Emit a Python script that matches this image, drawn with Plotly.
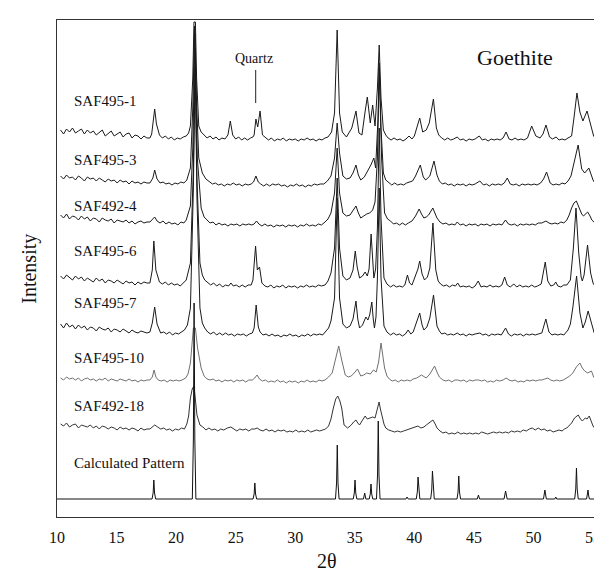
import plotly.graph_objects as go

# ---------------- data: (2theta, intensity above the pattern's own offset) ----------------
SAF495_1 = [(10.3,12),(10.55,8),(10.8,13),(11.05,10),(11.3,14),(11.55,9),(11.8,11),(12.05,13),(12.3,8),(12.55,12),(12.8,9),(13.05,11),(13.3,7),(13.55,10),(13.8,12),(14.05,6),(14.3,9),(14.55,11),(14.8,6),(15.05,8),(15.3,10),(15.55,5),(15.8,8),(16.05,9),(16.3,4),(16.55,7),(16.8,6),(17.05,3),(17.3,6),(17.55,4),
            (17.8,4),(17.95,8),(18.1,22),(18.2,33),(18.35,18),(18.6,7),(18.85,4),(19.1,6),(19.35,3),(19.6,5),(19.85,2),(20.1,4),(20.35,3),(20.6,5),(20.85,6),(21.05,9),(21.2,16),(21.4,64),(21.5,120),(21.62,120),(21.72,64),(21.9,16),(22.1,10),
            (22.35,7),(22.6,4),(22.85,6),(23.1,3),(23.35,5),(23.6,2),(23.85,4),(24.1,3),(24.35,7),(24.55,21),(24.75,7),(25.0,3),(25.25,5),(25.5,2),(25.75,4),(26.0,2),(26.25,4),(26.45,5),(26.55,7),(26.7,23),(26.85,15),(27.05,31),(27.25,7),(27.5,4),(27.75,2),(28.0,4),(28.25,1),(28.5,3),(28.75,2),(29.0,4),(29.25,1),(29.5,3),(29.75,2),(30.0,3),(30.25,1),(30.5,3),(30.75,2),(31.0,4),(31.25,2),(31.5,3),(31.75,1),(32.0,3),(32.25,2),(32.5,4),(32.75,5),
            (33.05,10),(33.3,29),(33.52,112),(33.72,29),(33.95,10),(34.3,5),(34.75,14),(35.1,31),(35.35,9),(35.6,7),(35.85,29),(36.05,45),(36.3,19),(36.5,37),(36.7,16),(36.9,54),(37.05,97),(37.2,44),(37.4,12),
            (37.6,7),(37.8,4),(38.05,2),(38.3,4),(38.55,2),(38.8,3),(39.05,1),(39.3,3),(39.55,6),(39.8,3),(40.0,6),(40.15,12),(40.45,24),(40.7,10),(41.0,12),(41.25,19),(41.6,43),(41.85,14),(42.05,7),(42.3,4),(42.55,2),(42.8,4),(43.05,2),(43.3,3),(43.6,5),(43.85,2),(44.1,3),(44.35,1),(44.6,3),(44.85,2),(45.1,3),(45.45,6),(45.7,2),(45.95,3),(46.2,1),(46.45,3),(46.7,2),(46.95,3),(47.2,2),(47.45,4),(47.7,10),(47.95,3),(48.2,2),(48.45,4),(48.7,2),(48.95,3),(49.2,2),(49.5,4),(49.85,16),(50.2,6),(50.55,4),(50.8,8),(51.05,17),(51.35,5),(51.6,3),(51.9,5),(52.15,2),(52.4,3),(52.65,2),(52.9,4),(53.2,6),(53.4,24),(53.65,49),(53.9,30),(54.15,21),(54.5,31),(54.85,14),(55.05,6),(55.25,3)]

SAF495_3 = [(10.3,11),(10.55,8),(10.8,12),(11.05,9),(11.3,10),(11.55,7),(11.8,11),(12.05,9),(12.3,6),(12.55,10),(12.8,8),(13.05,9),(13.3,6),(13.55,9),(13.8,7),(14.05,5),(14.3,8),(14.55,6),(14.8,7),(15.05,4),(15.3,7),(15.55,5),(15.8,6),(16.05,3),(16.3,6),(16.55,4),(16.8,5),(17.05,3),(17.3,5),(17.55,4),
            (17.8,4),(18.05,9),(18.2,17),(18.4,8),(18.65,4),(18.9,5),(19.15,3),(19.4,4),(19.65,2),(19.9,4),(20.15,3),(20.4,5),(20.65,4),(20.9,7),(21.2,19),(21.4,79),(21.55,161),(21.7,89),(21.9,29),(22.2,14),(22.5,8),(22.8,5),(23.05,3),(23.3,4),(23.55,2),(23.8,3),(24.05,1),(24.3,3),(24.55,2),(24.8,4),(25.05,2),(25.3,3),(25.55,1),(25.8,3),(26.05,2),(26.3,3),(26.5,5),(26.7,11),(26.9,5),(27.1,3),(27.35,1),(27.6,3),(27.85,1),(28.1,3),(28.35,2),(28.6,3),(28.85,1),(29.1,2),(29.35,0),(29.6,2),(29.85,1),(30.1,3),(30.35,1),(30.6,2),(30.85,0),(31.1,2),(31.35,1),(31.6,3),(31.85,2),(32.1,3),(32.4,3),(32.7,6),
            (33.0,11),(33.3,29),(33.52,64),(33.72,34),(34.0,11),(34.3,8),(34.6,9),(34.85,14),(35.1,22),(35.3,12),(35.5,7),(35.8,10),(36.1,16),(36.35,22),(36.6,29),(36.75,19),(36.95,69),(37.05,124),(37.2,59),(37.4,14),
            (37.6,7),(37.85,4),(38.1,2),(38.35,4),(38.6,2),(38.85,3),(39.1,2),(39.35,4),(39.6,5),(39.85,6),(40.1,11),(40.5,22),(40.75,10),(40.95,7),(41.3,11),(41.65,26),(41.9,12),(42.1,6),(42.35,3),(42.6,4),(42.85,2),(43.1,3),(43.35,1),(43.6,3),(43.85,2),(44.1,3),(44.35,1),(44.6,3),(44.85,2),(45.1,3),(45.5,6),(45.8,2),(46.05,3),(46.3,1),(46.55,3),(46.8,2),(47.05,3),(47.3,2),(47.55,4),(47.8,9),(48.05,3),(48.3,2),(48.55,3),(48.8,1),(49.05,3),(49.3,2),(49.55,3),(49.8,2),(50.05,3),(50.3,2),(50.6,4),(50.85,8),(51.1,15),(51.4,4),(51.65,2),(51.9,3),(52.15,2),(52.4,4),(52.65,3),(52.9,6),(53.15,11),(53.4,24),(53.75,42),(54.05,18),(54.3,14),(54.65,19),(55.0,7),(55.25,2)]

SAF492_4 = [(10.3,12),(10.55,9),(10.8,13),(11.05,8),(11.3,11),(11.55,10),(11.8,7),(12.05,11),(12.3,8),(12.55,10),(12.8,6),(13.05,9),(13.3,8),(13.55,5),(13.8,9),(14.05,7),(14.3,6),(14.55,8),(14.8,4),(15.05,7),(15.3,6),(15.55,5),(15.8,7),(16.05,4),(16.3,6),(16.55,3),(16.8,5),(17.05,6),(17.3,4),(17.55,5),
            (17.8,5),(18.05,8),(18.2,10),(18.4,6),(18.65,4),(18.9,6),(19.15,3),(19.4,5),(19.65,3),(19.9,4),(20.15,2),(20.4,5),(20.65,4),(20.85,7),(21.2,21),(21.4,79),(21.58,194),(21.78,69),(22.1,19),(22.35,10),(22.6,7),(22.85,4),(23.1,5),(23.35,2),(23.6,4),(23.85,2),(24.1,3),(24.35,1),(24.6,3),(24.85,2),(25.1,3),(25.35,1),(25.6,3),(25.85,2),(26.1,3),(26.35,2),(26.55,3),(26.75,6),(26.95,3),(27.2,1),(27.45,3),(27.7,1),(27.95,2),(28.2,0),(28.45,2),(28.7,1),(28.95,2),(29.2,0),(29.45,2),(29.7,1),(29.95,2),(30.2,0),(30.45,2),(30.7,1),(30.95,3),(31.2,1),(31.45,2),(31.7,1),(31.95,3),(32.2,2),(32.5,5),(32.75,8),
            (33.0,14),(33.3,34),(33.52,79),(33.72,34),(34.0,14),(34.3,11),(34.6,12),(34.85,16),(35.1,21),(35.3,14),(35.5,9),(35.75,11),(36.0,13),(36.25,14),(36.5,17),(36.7,25),(36.9,69),(37.05,159),(37.25,69),(37.5,14),
            (37.75,8),(38.0,6),(38.25,3),(38.5,4),(38.75,2),(39.0,4),(39.25,2),(39.5,4),(39.8,6),(40.1,11),(40.4,18),(40.6,13),(40.8,9),(41.0,10),(41.2,12),(41.55,19),(41.75,14),(41.9,9),(42.15,5),(42.4,3),(42.65,4),(42.9,2),(43.15,3),(43.4,2),(43.6,5),(43.85,2),(44.1,3),(44.35,1),(44.6,3),(44.85,2),(45.1,3),(45.35,1),(45.6,3),(45.85,2),(46.1,3),(46.35,1),(46.6,3),(46.85,2),(47.1,3),(47.35,2),(47.65,7),(47.9,3),(48.15,2),(48.4,3),(48.65,1),(48.9,3),(49.15,2),(49.4,3),(49.65,2),(49.9,3),(50.15,2),(50.4,4),(50.7,4),(51.05,6),(51.3,4),(51.55,3),(51.8,4),(52.05,3),(52.3,5),(52.55,4),(52.8,7),(53.0,12),(53.2,19),(53.4,24),(53.6,26),(53.85,19),(54.05,13),(54.2,11),(54.55,15),(54.75,11),(54.9,7),(55.25,3)]

SAF495_6 = [(10.3,13),(10.55,10),(10.8,14),(11.05,11),(11.3,9),(11.55,13),(11.8,10),(12.05,12),(12.3,8),(12.55,11),(12.8,9),(13.05,7),(13.3,11),(13.55,8),(13.8,10),(14.05,6),(14.3,9),(14.55,8),(14.8,6),(15.05,9),(15.3,7),(15.55,5),(15.8,8),(16.05,6),(16.3,7),(16.55,4),(16.8,7),(17.05,5),(17.3,7),(17.55,6),
            (17.8,6),(18.0,19),(18.13,48),(18.3,19),(18.6,7),(18.85,5),(19.1,7),(19.35,4),(19.6,6),(19.85,4),(20.1,5),(20.35,3),(20.6,6),(20.85,9),(21.2,26),(21.45,121),(21.6,241),(21.75,111),(22.0,26),(22.2,14),(22.4,9),(22.65,6),(22.9,4),(23.15,6),(23.4,3),(23.65,5),(23.9,2),(24.15,4),(24.4,3),(24.6,6),(24.8,3),(25.05,4),(25.3,2),(25.55,4),(25.8,2),(26.05,4),(26.3,4),(26.45,9),(26.55,21),(26.67,43),(26.82,19),(27.0,22),(27.2,6),(27.45,3),(27.7,2),(27.95,4),(28.2,1),(28.45,3),(28.7,2),(28.95,4),(29.2,1),(29.45,3),(29.7,2),(29.95,3),(30.2,1),(30.45,3),(30.7,2),(30.95,4),(31.2,2),(31.45,3),(31.7,2),(31.95,4),(32.2,3),(32.5,4),(32.75,8),
            (33.0,16),(33.3,41),(33.52,111),(33.72,41),(34.0,13),(34.3,9),(34.6,11),(34.85,19),(35.04,38),(35.2,22),(35.4,11),(35.65,13),(35.87,17),(36.05,13),(36.2,20),(36.37,55),(36.5,25),(36.6,11),(36.75,20),(36.9,61),(37.05,161),(37.2,71),(37.45,11),
            (37.7,5),(38.0,2),(38.25,4),(38.5,2),(38.75,3),(39.0,2),(39.2,4),(39.42,14),(39.6,6),(39.8,4),(40.1,13),(40.3,20),(40.45,28),(40.65,15),(40.85,9),(41.1,12),(41.3,21),(41.56,66),(41.8,19),(42.0,8),(42.2,5),(42.45,3),(42.7,4),(42.95,2),(43.2,4),(43.45,3),(43.64,6),(43.85,2),(44.1,3),(44.35,2),(44.6,3),(44.85,1),(45.1,3),(45.36,8),(45.6,2),(45.85,3),(46.1,2),(46.35,4),(46.6,2),(46.85,3),(47.1,2),(47.35,4),(47.58,12),(47.8,4),(48.05,2),(48.35,5),(48.6,2),(48.85,4),(49.1,2),(49.35,3),(49.6,2),(49.85,4),(50.1,2),(50.35,3),(50.65,5),(50.99,27),(51.2,8),(51.45,3),(51.7,4),(51.87,7),(52.05,3),(52.3,2),(52.55,4),(52.8,4),(53.1,9),(53.35,41),(53.57,81),(53.8,36),(54.0,12),(54.1,8),(54.25,14),(54.35,26),(54.54,44),(54.8,16),(55.0,6),(55.25,1)]

SAF495_7 = [(10.3,13),(10.55,9),(10.8,14),(11.05,10),(11.3,12),(11.55,8),(11.8,12),(12.05,9),(12.3,11),(12.55,7),(12.8,10),(13.05,9),(13.3,6),(13.55,10),(13.8,8),(14.05,7),(14.3,9),(14.55,5),(14.8,8),(15.05,7),(15.3,5),(15.55,8),(15.8,6),(16.05,4),(16.3,7),(16.55,5),(16.8,4),(17.05,6),(17.3,5),(17.55,4),
            (17.8,5),(18.0,14),(18.2,30),(18.4,13),(18.7,4),(18.95,5),(19.2,3),(19.45,5),(19.7,2),(19.95,4),(20.2,3),(20.45,5),(20.7,7),(20.95,12),(21.2,29),(21.45,149),(21.6,269),(21.75,139),(22.0,29),(22.2,14),(22.4,9),(22.65,5),(22.9,3),(23.15,5),(23.4,2),(23.65,4),(23.9,2),(24.15,4),(24.4,2),(24.65,3),(24.9,1),(25.15,3),(25.4,2),(25.65,3),(25.9,1),(26.15,3),(26.4,4),(26.55,9),(26.72,32),(26.9,10),(27.05,5),(27.3,2),(27.55,3),(27.8,1),(28.05,3),(28.3,1),(28.55,2),(28.8,0),(29.05,2),(29.3,1),(29.55,3),(29.8,1),(30.05,2),(30.3,0),(30.55,2),(30.8,1),(31.05,3),(31.3,1),(31.55,3),(31.8,2),(32.05,3),(32.3,2),(32.55,5),(32.8,9),
            (33.0,16),(33.3,39),(33.52,139),(33.72,39),(34.0,13),(34.3,9),(34.6,11),(34.85,18),(35.1,36),(35.25,18),(35.4,9),(35.65,12),(35.93,20),(36.1,17),(36.25,22),(36.43,35),(36.55,18),(36.65,9),(36.78,20),(36.9,59),(37.05,149),(37.2,59),(37.45,11),
            (37.7,5),(38.0,2),(38.25,4),(38.5,2),(38.75,3),(39.0,1),(39.25,3),(39.48,7),(39.7,3),(39.9,5),(40.15,14),(40.45,24),(40.65,12),(40.8,7),(41.05,10),(41.3,19),(41.61,42),(41.9,11),(42.1,6),(42.3,3),(42.55,4),(42.8,2),(43.05,3),(43.3,2),(43.6,4),(43.85,2),(44.1,3),(44.35,1),(44.6,3),(44.85,2),(45.1,3),(45.5,4),(45.75,2),(46.0,3),(46.25,1),(46.5,3),(46.75,2),(47.0,3),(47.3,2),(47.66,9),(47.9,3),(48.15,1),(48.4,3),(48.65,2),(48.9,3),(49.15,1),(49.4,3),(49.65,2),(49.9,3),(50.15,2),(50.4,3),(50.7,4),(51.04,18),(51.3,5),(51.55,2),(51.8,3),(52.05,2),(52.3,3),(52.55,2),(52.9,7),(53.1,13),(53.3,29),(53.62,61),(53.9,24),(54.15,9),(54.35,15),(54.59,26),(54.9,11),(55.1,4),(55.25,1)]

SAF495_10 = [(10.3,4),(10.55,2),(10.8,5),(11.05,3),(11.3,4),(11.55,2),(11.8,4),(12.05,1),(12.3,3),(12.55,4),(12.8,2),(13.05,3),(13.3,1),(13.55,3),(13.8,2),(14.05,4),(14.3,1),(14.55,3),(14.8,2),(15.05,1),(15.3,3),(15.55,2),(15.8,1),(16.05,3),(16.3,1),(16.55,2),(16.8,0),(17.05,2),(17.3,1),(17.55,2),
             (17.8,2),(18.0,5),(18.15,12),(18.3,5),(18.5,2),(18.75,1),(19.0,2),(19.25,0),(19.5,2),(19.75,1),(20.0,2),(20.25,1),(20.5,2),(20.8,4),(21.0,8),(21.2,19),(21.45,54),(21.62,54),(21.8,34),(22.1,14),(22.35,6),(22.6,3),(22.85,2),(23.1,3),(23.35,1),(23.6,2),(23.85,0),(24.1,2),(24.35,1),(24.6,2),(24.85,0),(25.1,2),(25.35,1),(25.6,2),(25.85,0),(26.1,2),(26.4,2),(26.6,4),(26.8,7),(27.0,3),(27.25,1),(27.5,2),(27.75,0),(28.0,1),(28.25,0),(28.5,2),(28.75,0),(29.0,1),(29.25,-1),(29.5,1),(29.75,0),(30.0,1),(30.25,-1),(30.5,1),(30.75,0),(31.0,2),(31.25,0),(31.5,1),(31.75,0),(32.0,2),(32.25,1),(32.5,2),(32.8,5),
             (33.1,9),(33.4,24),(33.65,36),(33.9,22),(34.2,7),(34.45,5),(34.7,6),(34.95,9),(35.23,13),(35.5,6),(35.75,7),(36.0,9),(36.3,8),(36.57,12),(36.8,10),(37.0,20),(37.2,39),(37.5,14),(37.7,6),(37.9,3),
             (38.15,1),(38.4,2),(38.65,0),(38.9,2),(39.15,1),(39.4,2),(39.65,1),(39.9,3),(40.2,4),(40.6,7),(40.85,5),(41.0,4),(41.3,8),(41.7,16),(41.9,10),(42.1,5),(42.4,2),(42.65,1),(42.9,2),(43.15,0),(43.4,2),(43.65,2),(43.9,1),(44.15,2),(44.4,0),(44.65,2),(44.9,1),(45.15,2),(45.4,2),(45.65,1),(45.9,2),(46.15,0),(46.4,1),(46.65,0),(46.9,2),(47.15,1),(47.45,2),(47.7,4),(47.95,2),(48.2,1),(48.45,2),(48.7,0),(48.95,1),(49.2,0),(49.45,2),(49.7,1),(49.95,2),(50.2,1),(50.45,2),(50.7,2),(50.95,3),(51.2,4),(51.45,2),(51.7,1),(51.95,2),(52.2,1),(52.5,2),(52.8,4),(53.05,6),(53.3,9),(53.6,15),(53.9,19),(54.1,14),(54.3,11),(54.55,9),(54.87,11),(55.05,5),(55.25,2)]

SAF492_18 = [(10.3,7),(10.55,5),(10.8,8),(11.05,4),(11.3,6),(11.55,7),(11.8,3),(12.05,6),(12.3,5),(12.55,4),(12.8,6),(13.05,3),(13.3,5),(13.55,2),(13.8,5),(14.05,4),(14.3,2),(14.55,4),(14.8,3),(15.05,1),(15.3,4),(15.55,2),(15.8,3),(16.05,1),(16.3,3),(16.55,2),(16.8,0),(17.05,3),(17.3,1),(17.55,2),
             (17.8,2),(18.0,4),(18.2,6),(18.45,4),(18.7,2),(18.95,3),(19.2,1),(19.45,2),(19.7,0),(19.95,2),(20.2,1),(20.45,3),(20.7,2),(20.9,7),(21.05,15),(21.2,33),(21.35,42),(21.5,45),(21.62,30),(21.75,16),(22.0,6),(22.25,4),(22.5,1),(22.75,3),(23.0,1),(23.25,2),(23.5,0),(23.75,2),(24.0,1),(24.3,3),(24.6,4),(24.85,2),(25.1,0),(25.35,2),(25.6,1),(25.85,2),(26.1,0),(26.35,2),(26.6,2),(26.8,3),(27.05,1),(27.3,0),(27.55,2),(27.8,0),(28.05,1),(28.3,-1),(28.55,1),(28.8,0),(29.05,1),(29.3,-1),(29.55,0),(29.8,-1),(30.05,1),(30.3,-1),(30.55,0),(30.8,-1),(31.05,1),(31.3,-1),(31.55,0),(31.8,1),(32.05,0),(32.3,1),(32.55,2),(32.8,5),
             (33.0,12),(33.2,23),(33.4,32),(33.57,35),(33.75,30),(33.9,23),(34.1,6),(34.4,3),(34.7,6),(34.9,9),(35.1,11),(35.25,8),(35.4,6),(35.6,10),(35.87,15),(36.05,12),(36.3,13),(36.5,14),(36.7,13),(36.85,19),(37.04,29),(37.15,22),(37.3,13),(37.45,7),(37.6,3),
             (37.85,1),(38.1,0),(38.35,-1),(38.6,0),(38.85,-1),(39.1,0),(39.35,1),(39.6,2),(39.85,3),(40.1,4),(40.3,5),(40.55,3),(40.8,4),(41.0,6),(41.2,8),(41.4,10),(41.56,11),(41.75,7),(41.9,3),(42.15,0),(42.4,-2),(42.65,-1),(42.9,-3),(43.15,-2),(43.4,-3),(43.65,-1),(43.9,-3),(44.15,-2),(44.4,-3),(44.65,-2),(44.9,-3),(45.15,-2),(45.4,-3),(45.65,-1),(45.9,-2),(46.15,-3),(46.4,-2),(46.65,-1),(46.9,-2),(47.15,-1),(47.4,-2),(47.65,-1),(47.9,-2),(48.15,0),(48.4,-1),(48.65,0),(48.9,-1),(49.15,1),(49.4,0),(49.65,2),(49.9,3),(50.15,1),(50.4,3),(50.65,1),(50.9,2),(51.15,0),(51.4,1),(51.65,-1),(51.9,0),(52.15,1),(52.4,0),(52.6,2),(52.8,3),(53.0,6),(53.2,8),(53.45,13),(53.76,16),(53.95,12),(54.1,10),(54.35,13),(54.5,12),(54.68,15),(54.85,10),(55.0,5),(55.25,1)]

CALCULATED = [(10.0,0),(17.98,0),(18.07,6),(18.13,19),(18.19,6),(18.28,0),(21.36,0),(21.45,60),(21.51,196),(21.57,60),(21.66,0),(26.46,0),(26.55,5),(26.61,16),(26.67,5),(26.76,0),(33.38,0),(33.47,16),(33.53,54),(33.59,16),(33.68,0),(34.87,0),(34.96,6),(35.02,19),(35.08,6),(35.17,0),(35.73,0),(35.83,6),(35.93,0),(36.21,0),(36.30,5),(36.36,15),(36.42,5),(36.51,0),(36.82,0),(36.91,24),(36.97,78),(37.03,24),(37.12,0),(39.29,0),(39.39,2),(39.49,0),(40.16,0),(40.25,7),(40.31,22),(40.37,7),(40.46,0),(41.37,0),(41.46,9),(41.52,28),(41.58,9),(41.67,0),(43.58,0),(43.67,7),(43.73,23),(43.79,7),(43.88,0),(45.28,0),(45.38,4),(45.48,0),(47.53,0),(47.66,8),(47.79,0),(50.84,0),(50.96,9),(51.08,0),(51.79,0),(51.87,2),(51.95,0),(53.46,0),(53.55,10),(53.61,31),(53.67,10),(53.76,0),(54.46,0),(54.52,3),(54.58,9),(54.64,3),(54.70,0),(55.2,0)]

SAMPLE_NAMES = ["SAF495-1", "SAF495-3", "SAF492-4", "SAF495-6", "SAF495-7",
                "SAF495-10", "SAF492-18", "Calculated Pattern"]
PATTERNS = [SAF495_1, SAF495_3, SAF492_4, SAF495_6, SAF495_7, SAF495_10, SAF492_18, CALCULATED]
OFFSETS = [375, 330, 290, 228, 180, 135, 86, 18]
LABEL_Y = [416, 357, 311, 266, 214, 159, 111, 54]
X_TICKS = [10, 15, 20, 25, 30, 35, 40, 45, 50, 55]

# ---------------- styling ----------------
COLORS = ["#1a1a1a", "#1a1a1a", "#1a1a1a", "#1a1a1a", "#1a1a1a", "#707070", "#333333", "#111111"]
FONT = "Liberation Serif, Times New Roman, serif"

fig = go.Figure()
for name, pts, off, col in zip(SAMPLE_NAMES, PATTERNS, OFFSETS, COLORS):
    xs = [p[0] for p in pts]
    ys = [p[1] + off for p in pts]
    fig.add_trace(go.Scatter(x=xs, y=ys, mode="lines", name=name,
                             line=dict(color=col, width=1.0), showlegend=False,
                             hoverinfo="skip"))

annotations = []
for name, ly in zip(SAMPLE_NAMES, LABEL_Y):
    annotations.append(dict(x=11.27, y=ly, xref="x", yref="y", text=name, showarrow=False,
                            xanchor="left", yanchor="middle",
                            font=dict(family=FONT, size=15, color="#111")))
annotations.append(dict(x=48.43, y=460, xref="x", yref="y", text="Goethite", showarrow=False,
                        xanchor="center", yanchor="middle",
                        font=dict(family=FONT, size=22, color="#111")))
annotations.append(dict(x=26.55, y=459, xref="x", yref="y", text="Quartz", showarrow=False,
                        xanchor="center", yanchor="middle",
                        font=dict(family=FONT, size=14, color="#111")))
annotations.append(dict(x=0.5, y=-0.088, xref="paper", yref="paper", text="2θ", showarrow=False,
                        xanchor="center", yanchor="middle", borderpad=0,
                        font=dict(family=FONT, size=20, color="#111")))
annotations.append(dict(x=-0.0515, y=0.5, xref="paper", yref="paper", text="Intensity",
                        showarrow=False, textangle=-90, xanchor="center", yanchor="middle",
                        font=dict(family=FONT, size=20, color="#111")))

fig.add_shape(type="line", x0=26.68, x1=26.68, y0=414, y1=447, xref="x", yref="y",
              line=dict(color="#222", width=1))

fig.update_layout(
    width=602, height=576,
    margin=dict(l=49, r=9, t=12, b=67),
    paper_bgcolor="white", plot_bgcolor="white",
    annotations=annotations,
    xaxis=dict(range=[10, 55.25], tickvals=X_TICKS, ticktext=[str(t) for t in X_TICKS],
               showgrid=False, zeroline=False, showline=True, mirror=True,
               linecolor="#333", linewidth=1.3, ticks="outside", ticklen=6,
               tickcolor="rgba(0,0,0,0)", tickfont=dict(family=FONT, size=16, color="#111")),
    yaxis=dict(range=[0, 497], showticklabels=False, showgrid=False, zeroline=False,
               showline=True, mirror=True, linecolor="#333", linewidth=1.3, ticks=""),
)

fig.write_html("out.html")
